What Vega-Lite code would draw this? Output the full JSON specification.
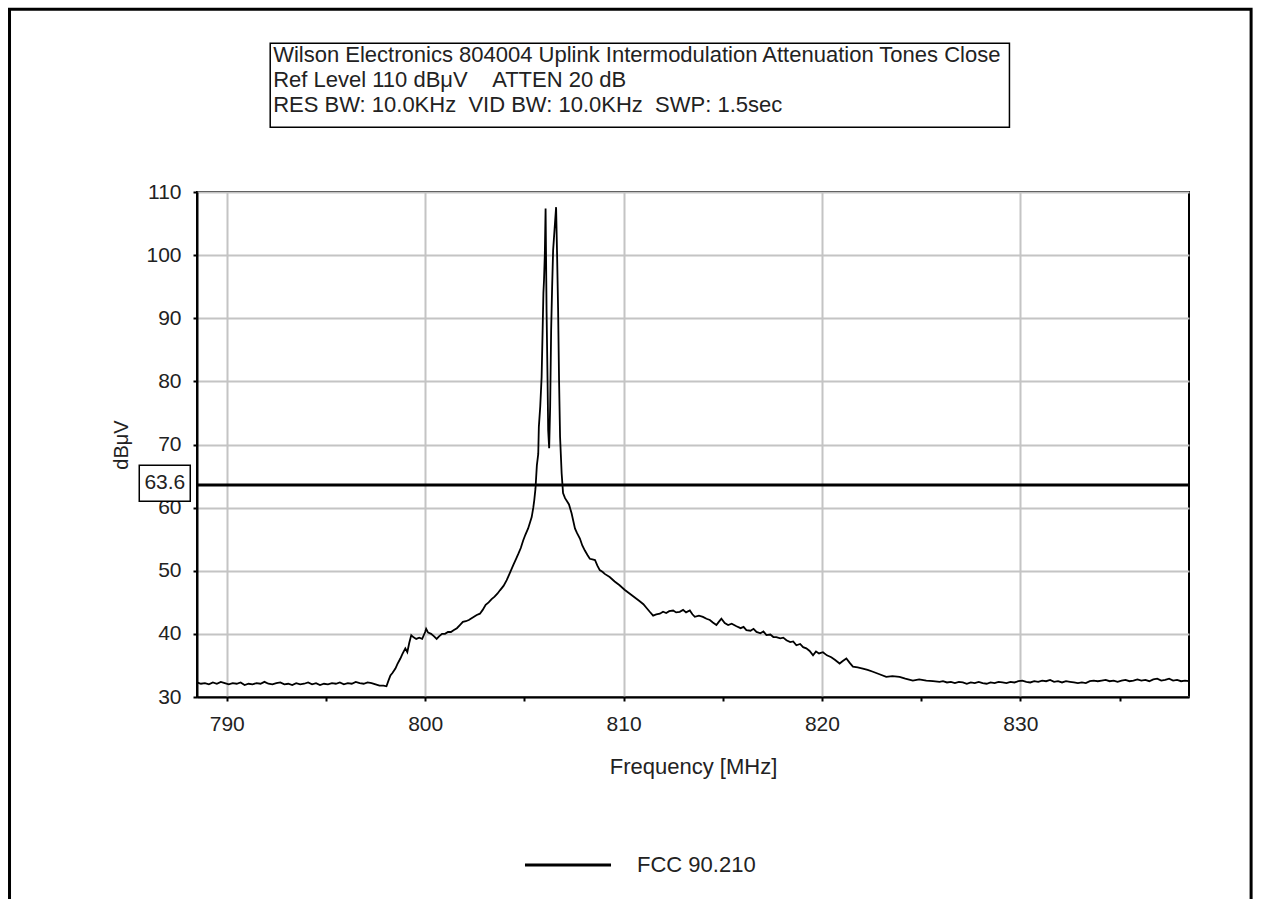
{
 "$schema": "https://vega.github.io/schema/vega-lite/v6.json",
 "width": 992, "height": 505,
 "autosize": {"type": "none"},
 "padding": {"left": 197, "top": 192, "right": 73, "bottom": 202},
 "background": "white",
 "config": {"view": {"stroke": "black", "strokeWidth": 2}, "font": "Liberation Sans"},
 "datasets": {
  "trace": [
   {"f":788.5,"v":32.3},{"f":788.7,"v":32.1},{"f":788.9,"v":32.2},{"f":789.1,"v":32.0},{"f":789.3,"v":32.3},{"f":789.5,"v":32.1},{"f":789.7,"v":32.4},{"f":789.9,"v":32.2},{"f":790.1,"v":32.0},{"f":790.3,"v":32.2},{"f":790.5,"v":32.1},{"f":790.7,"v":32.3},{"f":790.9,"v":31.9},{"f":791.1,"v":32.1},{"f":791.3,"v":32.0},{"f":791.5,"v":32.2},{"f":791.7,"v":32.1},{"f":791.9,"v":32.4},{"f":792.1,"v":32.1},{"f":792.3,"v":32.0},{"f":792.5,"v":32.2},{"f":792.7,"v":32.3},{"f":792.9,"v":32.0},{"f":793.1,"v":32.1},{"f":793.3,"v":31.9},{"f":793.5,"v":32.2},{"f":793.7,"v":32.0},{"f":793.9,"v":32.1},{"f":794.1,"v":32.3},{"f":794.3,"v":32.0},{"f":794.5,"v":32.2},{"f":794.7,"v":31.9},{"f":794.9,"v":32.1},{"f":795.1,"v":32.0},{"f":795.3,"v":32.2},{"f":795.5,"v":32.1},{"f":795.7,"v":32.3},{"f":795.9,"v":32.0},{"f":796.1,"v":32.2},{"f":796.3,"v":32.1},{"f":796.5,"v":32.4},{"f":796.7,"v":32.2},{"f":796.9,"v":32.1},{"f":797.1,"v":32.3},{"f":797.3,"v":32.2},{"f":797.5,"v":32.0},{"f":797.7,"v":31.8},{"f":797.9,"v":31.8},{"f":798.05,"v":31.7},
   {"f":798.15,"v":32.6},{"f":798.25,"v":33.4},{"f":798.35,"v":33.8},{"f":798.5,"v":34.5},{"f":798.6,"v":35.2},{"f":798.75,"v":36.1},{"f":798.85,"v":36.8},{"f":799.0,"v":37.7},{"f":799.1,"v":37.1},{"f":799.2,"v":38.6},{"f":799.3,"v":39.8},{"f":799.4,"v":39.5},{"f":799.55,"v":39.2},{"f":799.7,"v":39.4},{"f":799.85,"v":39.2},{"f":800.0,"v":40.3},{"f":800.05,"v":40.8},{"f":800.15,"v":40.2},{"f":800.3,"v":40.0},{"f":800.45,"v":39.6},{"f":800.58,"v":39.2},{"f":800.7,"v":39.6},{"f":800.85,"v":40.0},{"f":801.0,"v":40.0},{"f":801.15,"v":40.3},{"f":801.3,"v":40.3},{"f":801.45,"v":40.6},{"f":801.6,"v":40.9},{"f":801.75,"v":41.4},{"f":801.9,"v":41.9},{"f":802.05,"v":42.0},{"f":802.2,"v":42.2},{"f":802.4,"v":42.6},{"f":802.6,"v":43.0},{"f":802.76,"v":43.2},{"f":802.9,"v":43.8},{"f":803.05,"v":44.6},{"f":803.2,"v":45.0},{"f":803.35,"v":45.5},{"f":803.5,"v":45.9},{"f":803.65,"v":46.4},{"f":803.77,"v":46.9},{"f":803.95,"v":47.6},{"f":804.11,"v":48.5},{"f":804.25,"v":49.5},{"f":804.44,"v":50.9},{"f":804.6,"v":52.0},{"f":804.7,"v":52.7},{"f":804.82,"v":53.6},{"f":804.94,"v":54.8},{"f":805.05,"v":55.7},{"f":805.19,"v":56.7},{"f":805.3,"v":57.8},{"f":805.37,"v":58.5},{"f":805.45,"v":60.0},{"f":805.5,"v":61.2},{"f":805.56,"v":63.0},{"f":805.63,"v":66.7},{"f":805.7,"v":68.5},{"f":805.73,"v":72.8},{"f":805.8,"v":76.0},{"f":805.87,"v":80.7},{"f":805.92,"v":88.0},{"f":805.96,"v":94.0},{"f":805.99,"v":96.0},{"f":806.03,"v":100.0},{"f":806.07,"v":107.4},{"f":806.12,"v":91.0},{"f":806.17,"v":80.0},{"f":806.2,"v":72.3},{"f":806.25,"v":69.4},{"f":806.3,"v":76.0},{"f":806.35,"v":88.1},{"f":806.4,"v":95.0},{"f":806.45,"v":100.8},{"f":806.52,"v":104.0},{"f":806.6,"v":107.6},{"f":806.65,"v":100.0},{"f":806.7,"v":91.6},{"f":806.75,"v":80.0},{"f":806.8,"v":71.2},{"f":806.88,"v":65.4},{"f":806.95,"v":62.3},{"f":807.05,"v":61.5},{"f":807.15,"v":61.0},{"f":807.25,"v":60.5},{"f":807.38,"v":59.1},{"f":807.55,"v":56.7},{"f":807.65,"v":56.0},{"f":807.8,"v":55.1},{"f":807.92,"v":54.0},{"f":808.05,"v":53.2},{"f":808.18,"v":52.5},{"f":808.3,"v":51.9},{"f":808.43,"v":51.8},{"f":808.56,"v":51.7},{"f":808.68,"v":50.8},{"f":808.8,"v":50.1},{"f":808.95,"v":49.8},{"f":809.05,"v":49.5},{"f":809.3,"v":49.0},{"f":809.55,"v":48.3},{"f":809.8,"v":47.7},{"f":810.05,"v":47.0},{"f":810.3,"v":46.4},{"f":810.55,"v":45.8},{"f":810.8,"v":45.2},{"f":811.0,"v":44.7},{"f":811.16,"v":44.1},{"f":811.32,"v":43.5},{"f":811.49,"v":42.9},{"f":811.65,"v":43.1},{"f":811.83,"v":43.2},{"f":811.99,"v":43.5},{"f":812.15,"v":43.3},{"f":812.3,"v":43.6},{"f":812.5,"v":43.7},{"f":812.65,"v":43.4},{"f":812.83,"v":43.5},{"f":813.0,"v":43.8},{"f":813.15,"v":43.4},{"f":813.34,"v":43.7},{"f":813.47,"v":43.1},{"f":813.59,"v":42.7},{"f":813.8,"v":42.9},{"f":814.0,"v":42.7},{"f":814.18,"v":42.4},{"f":814.35,"v":42.2},{"f":814.5,"v":41.8},{"f":814.68,"v":41.4},{"f":814.8,"v":41.9},{"f":814.93,"v":42.4},{"f":815.1,"v":41.7},{"f":815.27,"v":41.4},{"f":815.45,"v":41.6},{"f":815.69,"v":41.2},{"f":815.9,"v":40.9},{"f":816.05,"v":41.1},{"f":816.19,"v":40.6},{"f":816.4,"v":40.5},{"f":816.55,"v":40.8},{"f":816.7,"v":40.3},{"f":816.9,"v":40.1},{"f":817.05,"v":40.4},{"f":817.2,"v":39.8},{"f":817.4,"v":39.9},{"f":817.55,"v":39.5},{"f":817.7,"v":39.5},{"f":817.9,"v":39.3},{"f":818.05,"v":39.4},{"f":818.21,"v":39.0},{"f":818.4,"v":38.7},{"f":818.55,"v":38.8},{"f":818.71,"v":38.2},{"f":818.9,"v":38.4},{"f":819.05,"v":37.9},{"f":819.21,"v":37.7},{"f":819.38,"v":37.3},{"f":819.55,"v":36.6},{"f":819.7,"v":37.2},{"f":819.85,"v":36.9},{"f":820.05,"v":37.1},{"f":820.25,"v":36.6},{"f":820.47,"v":36.3},{"f":820.65,"v":35.9},{"f":820.89,"v":35.3},{"f":821.05,"v":35.7},{"f":821.23,"v":36.1},{"f":821.4,"v":35.4},{"f":821.56,"v":34.8},{"f":821.8,"v":34.7},{"f":822.06,"v":34.5},{"f":822.3,"v":34.3},{"f":822.57,"v":34.0},{"f":822.9,"v":33.6},{"f":823.24,"v":33.2},{"f":823.55,"v":33.3},{"f":823.91,"v":33.2},{"f":824.2,"v":32.9},{"f":824.58,"v":32.6},{"f":824.9,"v":32.8},{"f":825.26,"v":32.6},{"f":825.6,"v":32.5},{"f":825.93,"v":32.4},
   {"f":826.1,"v":32.5},{"f":826.3,"v":32.3},{"f":826.5,"v":32.4},{"f":826.7,"v":32.2},{"f":826.9,"v":32.4},{"f":827.1,"v":32.3},{"f":827.3,"v":32.1},{"f":827.5,"v":32.3},{"f":827.7,"v":32.2},{"f":827.9,"v":32.4},{"f":828.1,"v":32.2},{"f":828.3,"v":32.1},{"f":828.5,"v":32.3},{"f":828.7,"v":32.2},{"f":828.9,"v":32.4},{"f":829.1,"v":32.3},{"f":829.3,"v":32.2},{"f":829.5,"v":32.4},{"f":829.7,"v":32.3},{"f":829.9,"v":32.5},{"f":830.1,"v":32.6},{"f":830.3,"v":32.4},{"f":830.5,"v":32.3},{"f":830.7,"v":32.5},{"f":830.9,"v":32.4},{"f":831.1,"v":32.6},{"f":831.3,"v":32.5},{"f":831.5,"v":32.7},{"f":831.7,"v":32.4},{"f":831.9,"v":32.5},{"f":832.1,"v":32.3},{"f":832.3,"v":32.5},{"f":832.5,"v":32.4},{"f":832.7,"v":32.3},{"f":832.9,"v":32.2},{"f":833.1,"v":32.3},{"f":833.3,"v":32.2},{"f":833.5,"v":32.5},{"f":833.7,"v":32.6},{"f":833.9,"v":32.5},{"f":834.1,"v":32.6},{"f":834.3,"v":32.7},{"f":834.5,"v":32.5},{"f":834.7,"v":32.6},{"f":834.9,"v":32.4},{"f":835.1,"v":32.6},{"f":835.3,"v":32.7},{"f":835.5,"v":32.5},{"f":835.7,"v":32.6},{"f":835.9,"v":32.8},{"f":836.1,"v":32.6},{"f":836.3,"v":32.7},{"f":836.5,"v":32.5},{"f":836.7,"v":32.8},{"f":836.9,"v":32.9},{"f":837.1,"v":32.6},{"f":837.3,"v":32.7},{"f":837.5,"v":32.9},{"f":837.7,"v":32.6},{"f":837.9,"v":32.7},{"f":838.1,"v":32.5},{"f":838.3,"v":32.6},{"f":838.5,"v":32.5}
  ]
 },
 "layer": [
  {
   "data": {"values": [{}]},
   "mark": {"type": "rect", "fillOpacity": 0, "stroke": "black", "strokeWidth": 3},
   "encoding": {
    "x": {"datum": 779.05, "type": "quantitative"}, "x2": {"datum": 841.63},
    "y": {"datum": 138.94, "type": "quantitative"}, "y2": {"datum": -3}
   }
  },
  {
   "data": {"name": "trace"},
   "mark": {"type": "line", "color": "black", "strokeWidth": 1.8, "clip": true},
   "encoding": {
    "x": {
     "field": "f", "type": "quantitative",
     "scale": {"domain": [788.5, 838.5], "nice": false, "zero": false},
     "axis": {
      "title": "Frequency [MHz]",
      "values": [790, 795, 800, 805, 810, 815, 820, 825, 830, 835],
      "labelExpr": "datum.value % 10 === 0 ? datum.label : ''",
      "grid": true,
      "gridColor": {"condition": {"test": "datum.value % 10 === 0", "value": "#c4c4c4"}, "value": "rgba(0,0,0,0)"},
      "gridWidth": 2,
      "domainColor": "black", "domainWidth": 2,
      "tickColor": "black", "tickSize": 4, "tickWidth": 2,
      "labelFontSize": 21, "labelColor": "#222", "labelPadding": 12,
      "titleFontSize": 22, "titleFontWeight": "normal", "titleColor": "#222", "titlePadding": 22,
      "zindex": 0
     }
    },
    "y": {
     "field": "v", "type": "quantitative",
     "scale": {"domain": [30, 110], "nice": false, "zero": false},
     "axis": {
      "title": "dBμV",
      "values": [30, 35, 40, 45, 50, 55, 60, 65, 70, 75, 80, 85, 90, 95, 100, 105, 110],
      "labelExpr": "datum.value % 10 === 0 ? datum.label : ''",
      "grid": true,
      "gridColor": {"condition": {"test": "datum.value % 10 === 0", "value": "#c4c4c4"}, "value": "rgba(0,0,0,0)"},
      "gridWidth": 2,
      "domainColor": "black", "domainWidth": 2,
      "tickColor": "black", "tickSize": 4, "tickWidth": 2,
      "labelFontSize": 21, "labelColor": "#222", "labelPadding": 12,
      "titleFontSize": 20, "titleFontWeight": "normal", "titleColor": "#222",
      "titleX": -76, "titleY": 252.5, "titleAngle": -90, "titleAlign": "center", "titleBaseline": "middle",
      "zindex": 0
     }
    }
   }
  },
  {
   "data": {"values": [{}]},
   "mark": {"type": "rule", "strokeWidth": 3},
   "encoding": {
    "y": {"datum": 63.6, "type": "quantitative"},
    "stroke": {
     "datum": "FCC 90.210", "type": "nominal",
     "scale": {"range": ["black"]},
     "legend": {
      "orient": "none", "legendX": 326, "legendY": 628, "title": null, "padding": 0,
      "symbolType": "stroke", "symbolSize": 7400, "symbolStrokeWidth": 3,
      "labelFontSize": 22, "labelColor": "#222", "labelOffset": 24
     }
    }
   }
  },
  {
   "data": {"values": [{}]},
   "mark": {"type": "rect", "fill": "white", "stroke": "black", "strokeWidth": 1.5},
   "encoding": {
    "x": {"datum": 785.59, "type": "quantitative"}, "x2": {"datum": 788.16},
    "y": {"datum": 66.7, "type": "quantitative"}, "y2": {"datum": 61.0}
   }
  },
  {
   "data": {"values": [{}]},
   "mark": {"type": "text", "fontSize": 21, "color": "#222", "align": "center", "baseline": "middle"},
   "encoding": {
    "x": {"datum": 786.88, "type": "quantitative"},
    "y": {"datum": 63.85, "type": "quantitative"},
    "text": {"value": "63.6"}
   }
  },
  {
   "data": {"values": [{}]},
   "mark": {"type": "rect", "fill": "white", "stroke": "black", "strokeWidth": 1.5},
   "encoding": {
    "x": {"datum": 792.19, "type": "quantitative"}, "x2": {"datum": 829.45},
    "y": {"datum": 133.56, "type": "quantitative"}, "y2": {"datum": 120.25}
   }
  },
  {
   "data": {"values": [{}]},
   "mark": {"type": "text", "fontSize": 22, "color": "#222", "align": "left", "baseline": "middle"},
   "encoding": {
    "x": {"datum": 792.34, "type": "quantitative"},
    "y": {"datum": 131.66, "type": "quantitative"},
    "text": {"value": "Wilson Electronics 804004 Uplink Intermodulation Attenuation Tones Close"}
   }
  },
  {
   "data": {"values": [{}]},
   "mark": {"type": "text", "fontSize": 22, "color": "#222", "align": "left", "baseline": "middle"},
   "encoding": {
    "x": {"datum": 792.34, "type": "quantitative"},
    "y": {"datum": 127.7, "type": "quantitative"},
    "text": {"value": "Ref Level 110 dBμV\u00a0\u00a0\u00a0\u00a0ATTEN 20 dB"}
   }
  },
  {
   "data": {"values": [{}]},
   "mark": {"type": "text", "fontSize": 22, "color": "#222", "align": "left", "baseline": "middle"},
   "encoding": {
    "x": {"datum": 792.34, "type": "quantitative"},
    "y": {"datum": 123.74, "type": "quantitative"},
    "text": {"value": "RES BW: 10.0KHz\u00a0\u00a0VID BW: 10.0KHz\u00a0\u00a0SWP: 1.5sec"}
   }
  }
 ]
}
